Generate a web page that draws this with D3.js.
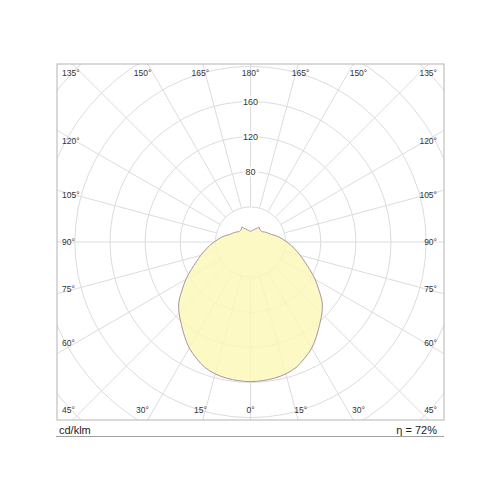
<!DOCTYPE html>
<html>
<head>
<meta charset="utf-8">
<script src="https://cdn.jsdelivr.net/npm/d3@7"></script>
<style>
  body { margin: 0; background: #fff; }
  svg { display: block; font-family: "Liberation Sans", Arial, sans-serif; }
</style>
</head>
<body>
<svg id="chart" width="500" height="500"></svg>
<script>
// gamma angles (deg, 0 = straight down) and intensity in cd/klm, C0 plane (symmetric)
var gammaAngles = [0, 5, 10, 15, 20, 25, 30, 35, 40, 45, 50, 55, 60, 65, 70, 75, 80, 85, 90,
  95, 100, 105, 110, 115, 120, 125, 130, 135, 140, 145, 150, 155, 160, 165, 170, 175, 180];
var intensity = [159, 158.5, 157.5, 155.5, 152, 146, 139.5, 131, 122.5, 115, 106.5, 95, 85, 74.6, 65.6, 58.7, 52.2, 46.8, 41.5,
  36.8, 33, 29, 25.2, 23.1, 21.4, 19.8, 18.1, 17.4, 17.4, 18, 19.6, 17.2, 15.8, 14.5, 13.4, 12.7, 12.4];

var ringValues = [40, 80, 120, 160, 200, 240, 280, 320];
var ringLabels = [80, 120, 160];
var spokeAngles = [0, 15, 30, 45, 60, 75, 90, 105, 120, 135, 150, 165, 180];
var unitLabel = "cd/klm";
var efficiencyLabel = "η = 72%";

var box = {left: 57, top: 64, right: 444, bottom: 420};
var cx = (box.left + box.right) / 2,
    cy = (box.top + box.bottom) / 2;

var svg = d3.select("#chart");

var r = d3.scaleLinear()
  .domain([0, 200])
  .range([0, 175.6]);

function pt(gamma, value, side) {
  var a = gamma * Math.PI / 180;
  return [cx + side * r(value) * Math.sin(a), cy + r(value) * Math.cos(a)];
}

svg.append("clipPath").attr("id", "plotclip")
  .append("rect")
  .attr("x", box.left).attr("y", box.top)
  .attr("width", box.right - box.left).attr("height", box.bottom - box.top);

var grid = svg.append("g").attr("clip-path", "url(#plotclip)");

// rings
grid.selectAll("circle.ring")
  .data(ringValues)
  .enter()
  .append("circle")
  .attr("class", "ring")
  .attr("cx", cx).attr("cy", cy)
  .attr("r", function(d) { return r(d); })
  .style("fill", "none")
  .style("stroke", "#dcdce0")
  .style("stroke-width", 1);

// spokes, both sides, from the innermost ring outwards
var spokes = [];
spokeAngles.forEach(function(g) {
  spokes.push({g: g, s: 1});
  if (g != 0 && g != 180) spokes.push({g: g, s: -1});
});

grid.selectAll("line.spoke")
  .data(spokes)
  .enter()
  .append("line")
  .attr("class", "spoke")
  .attr("x1", function(d) { return pt(d.g, ringValues[0], d.s)[0]; })
  .attr("y1", function(d) { return pt(d.g, ringValues[0], d.s)[1]; })
  .attr("x2", function(d) { return pt(d.g, 400, d.s)[0]; })
  .attr("y2", function(d) { return pt(d.g, 400, d.s)[1]; })
  .style("stroke", "#dcdce0")
  .style("stroke-width", 1);

// distribution curve: right half then mirrored left half
var curvePts = [];
gammaAngles.forEach(function(g, i) { curvePts.push(pt(g, intensity[i], 1)); });
for (var i = gammaAngles.length - 2; i > 0; i--) curvePts.push(pt(gammaAngles[i], intensity[i], -1));

svg.append("path")
  .datum(curvePts)
  .attr("d", d3.line().curve(d3.curveCatmullRomClosed.alpha(0.5)))
  .style("fill", "#fdf8b8")
  .style("fill-opacity", 0.82)
  .style("stroke", "#a8949e")
  .style("stroke-width", 1);

// ring value labels on the upward axis
var rl = svg.selectAll("g.rlabel")
  .data(ringLabels)
  .enter()
  .append("g")
  .attr("class", "rlabel")
  .attr("transform", function(d) { return "translate(" + cx + "," + (cy - r(d)) + ")"; });

rl.append("rect")
  .attr("x", -8).attr("y", -5).attr("width", 16).attr("height", 10)
  .style("fill", "#fff");

rl.append("text")
  .attr("text-anchor", "middle")
  .attr("dy", "0.35em")
  .style("font-size", "9px")
  .style("fill", "#333")
  .text(function(d) { return d; });

// angle labels around the frame
var angLabels = [];
spokeAngles.forEach(function(g) {
  [-1, 1].forEach(function(s) {
    if ((g == 0 || g == 180) && s == -1) return;
    var x, y, anchor = "middle";
    if (g < 45) {
      x = cx + s * 187 * Math.tan(g * Math.PI / 180); y = 410;
    } else if (g > 135) {
      x = cx + s * 187 * Math.tan((180 - g) * Math.PI / 180); y = 73;
    } else {
      x = s < 0 ? box.left + 5 : box.right - 7;
      anchor = s < 0 ? "start" : "end";
      if (g == 45) y = 410;
      else if (g == 135) y = 73;
      else y = cy - 175 * Math.tan((g - 90) * Math.PI / 180);
    }
    angLabels.push({g: g, x: x, y: y, anchor: anchor});
  });
});

svg.selectAll("text.alabel")
  .data(angLabels)
  .enter()
  .append("text")
  .attr("class", "alabel")
  .attr("x", function(d) { return d.x; })
  .attr("y", function(d) { return d.y; })
  .attr("dy", "0.35em")
  .attr("text-anchor", function(d) { return d.anchor; })
  .style("font-size", "8.5px")
  .style("fill", "#333")
  .text(function(d) { return d.g + "°"; });

// frame and footer
svg.append("rect")
  .attr("x", box.left).attr("y", box.top)
  .attr("width", box.right - box.left).attr("height", box.bottom - box.top)
  .style("fill", "none")
  .style("stroke", "#b4b4b4")
  .style("stroke-width", 1);

svg.append("line")
  .attr("x1", box.left - 1).attr("x2", box.right)
  .attr("y1", 436.5).attr("y2", 436.5)
  .style("stroke", "#a0a0a0")
  .style("stroke-width", 1);

svg.append("text")
  .attr("x", box.left + 2).attr("y", 434)
  .style("font-size", "11px")
  .style("fill", "#222")
  .text(unitLabel);

svg.append("text")
  .attr("x", box.right - 7).attr("y", 434)
  .attr("text-anchor", "end")
  .style("font-size", "11px")
  .style("fill", "#222")
  .text(efficiencyLabel);
</script>
</body>
</html>
